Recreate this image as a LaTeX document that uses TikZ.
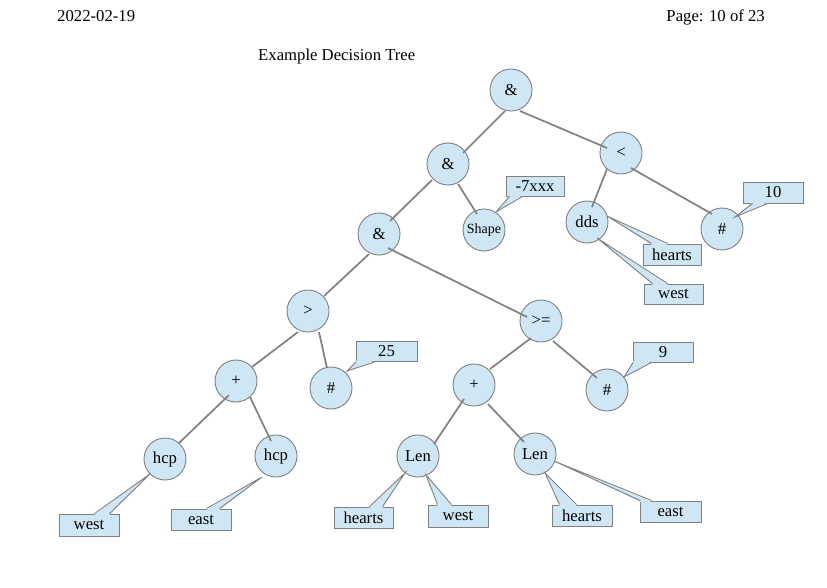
\documentclass[tikz,border=0pt]{standalone}
\usepackage{fontspec}
\setmainfont{Liberation Serif}
\usetikzlibrary{calc}
\definecolor{cfill}{RGB}{207,231,245}
\definecolor{cline}{RGB}{128,128,128}
\newcommand\ptrbot[4]{%
  \fill[cfill] ($(#1.south west)+(#2,-1.3)$) -- #4 -- ($(#1.south west)+(#3,-1.3)$) -- cycle;
  \draw[ptr] ($(#1.south west)+(#2,0)$) -- #4 -- ($(#1.south west)+(#3,0)$);}
\newcommand\ptrtop[4]{%
  \fill[cfill] ($(#1.north west)+(#2,1.3)$) -- #4 -- ($(#1.north west)+(#3,1.3)$) -- cycle;
  \draw[ptr] ($(#1.north west)+(#2,0)$) -- #4 -- ($(#1.north west)+(#3,0)$);}
\begin{document}
\begin{tikzpicture}[x=1pt,y=-1pt,
  tn/.style={circle,draw=cline,line width=0.9pt,fill=cfill,minimum size=42pt,inner sep=0pt,font=\fontsize{16.7}{18}\selectfont},
  cb/.style={rectangle,draw=cline,line width=0.9pt,fill=cfill,inner sep=0pt,minimum height=21pt,minimum width=60pt,font=\fontsize{16.7}{18}\selectfont},
  edge/.style={draw=cline,line width=1.7pt},
  ptr/.style={draw=cline,line width=0.9pt,line join=miter},
  hdr/.style={inner sep=0pt,font=\fontsize{16.7}{18}\selectfont}]
\useasboundingbox (0,0) rectangle (827,588);
\fill[white] (0,0) rectangle (827,588);
% header
\node[hdr,anchor=base west] (date) at (57,21.5) {2022-02-19};
\node[hdr,anchor=base east] (page) at (765,21.5) {Page: 10 of 23};
\node[hdr,anchor=base west] (title) at (258,60.5) {Example Decision Tree};
% tree nodes
\node[tn] (root) at (511,90) {\&};
\node[tn] (a1) at (448,164) {\&};
\node[tn] (lt) at (621,153) {<};
\node[tn] (a2) at (379,234) {\&};
\node[tn,font=\fontsize{14}{16}\selectfont] (shape) at (484,230) {Shape};
\node[tn] (dds) at (587,222) {dds};
\node[tn] (h10) at (722,229) {\#};
\node[tn] (gt) at (308,311) {>};
\node[tn] (ge) at (541,321) {>=};
\node[tn] (pl) at (236,381) {+};
\node[tn] (h25) at (331,388) {\#};
\node[tn] (pr) at (474,385) {+};
\node[tn] (h9) at (607,390) {\#};
\node[tn] (hcpL) at (165,459) {hcp};
\node[tn] (hcpR) at (276,456) {hcp};
\node[tn] (lenL) at (418,456) {Len};
\node[tn] (lenR) at (535,454) {Len};
% callout boxes
\node[cb,minimum width=58pt,minimum height=20pt] (c1) at (535,186) {-7xxx};
\node[cb,minimum width=60pt,minimum height=21pt] (c2) at (773,192.5) {10};
\node[cb,minimum width=58pt,minimum height=21pt] (c3) at (672,254.5) {hearts};
\node[cb,minimum width=59pt,minimum height=20pt] (c4) at (673.5,294) {west};
\node[cb,minimum width=61pt,minimum height=20pt] (c5) at (386.5,351.5) {25};
\node[cb,minimum width=60pt,minimum height=20pt] (c6) at (663,352) {9};
\node[cb,minimum width=60pt,minimum height=22pt] (c7) at (89,525) {west};
\node[cb,minimum width=60pt,minimum height=21pt] (c8) at (201,519.5) {east};
\node[cb,minimum width=59pt,minimum height=21pt] (c9) at (363.5,517.5) {hearts};
\node[cb,minimum width=60pt,minimum height=22pt] (c10) at (458,516) {west};
\node[cb,minimum width=60pt,minimum height=21pt] (c11) at (582,515.5) {hearts};
\node[cb,minimum width=61pt,minimum height=21pt] (c12) at (670.5,511.5) {east};
% edges
\draw[edge] ($(root)+(-6,21)$) -- ($(a1)+(15,-11)$);
\draw[edge] ($(root)+(9,21)$) -- ($(lt)+(-14,-5)$);
\draw[edge] ($(a1)+(10,20)$) -- ($(shape)+(-7,-16)$);
\draw[edge] ($(a1)+(-16,16)$) -- ($(a2)+(11,-13)$);
\draw[edge] ($(lt)+(-14,16)$) -- ($(dds)+(5,-15)$);
\draw[edge] ($(lt)+(10,15)$) -- ($(h10)+(-10,-15)$);
\draw[edge] ($(a2)+(-10,20)$) -- ($(gt)+(16,-15)$);
\draw[edge] ($(a2)+(9,14)$) -- ($(ge)+(-14,-4)$);
\draw[edge] ($(gt)+(-10,21)$) -- ($(pl)+(16,-14)$);
\draw[edge] ($(gt)+(11,21)$) -- ($(h25)+(-4,-20)$);
\draw[edge] ($(pl)+(-7,14)$) -- ($(hcpL)+(14,-16)$);
\draw[edge] ($(pl)+(14,16)$) -- ($(hcpR)+(-5,-15)$);
\draw[edge] ($(ge)+(-10,17)$) -- ($(pr)+(16,-16)$);
\draw[edge] ($(ge)+(12,20)$) -- ($(h9)+(-10,-12)$);
\draw[edge] ($(pr)+(-10,14)$) -- ($(lenL)+(16,-12)$);
\draw[edge] ($(pr)+(14,19)$) -- ($(lenR)+(-11,-12)$);
% pointers
\ptrbot{c1}{4}{17}{($(shape)+(12,-18)$)}
\ptrbot{c2}{10}{25}{($(h10)+(13,-12)$)}
\ptrtop{c3}{9}{25}{($(dds)+(20,-6)$)}
\ptrtop{c4}{9}{24}{($(dds)+(10,16)$)}
\ptrbot{c5}{0.6}{19}{($(h25)+(16,-17)$)}
\ptrbot{c6}{0.6}{19}{($(h9)+(17,-13)$)}
\ptrtop{c7}{36}{51}{($(hcpL)+(-15,15)$)}
\ptrtop{c8}{36}{49}{($(hcpR)+(-14,21)$)}
\ptrtop{c9}{36}{49}{($(lenL)+(-13,17)$)}
\ptrtop{c10}{10}{24}{($(lenL)+(8,19)$)}
\ptrtop{c11}{8}{25}{($(lenR)+(10,19)$)}
\ptrtop{c12}{0.6}{12}{($(lenR)+(19,7)$)}
\end{tikzpicture}
\end{document}
